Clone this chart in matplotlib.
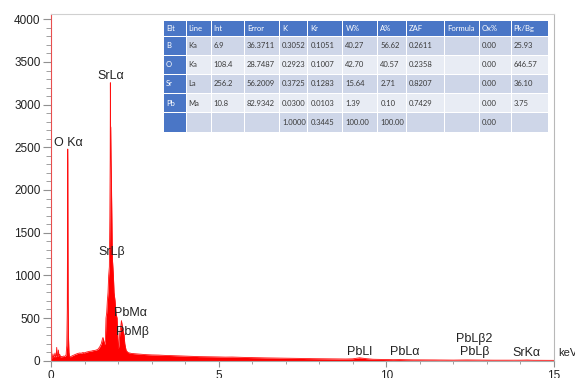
import matplotlib.pyplot as plt
from matplotlib.patches import Rectangle

# spectrum, energy in keV and counts
energy = [0.000, 0.005, 0.012, 0.02, 0.04, 0.06, 0.07, 0.10, 0.12, 0.13,
          0.155, 0.17, 0.18, 0.20, 0.22, 0.235, 0.26, 0.28, 0.31, 0.34,
          0.38, 0.42, 0.45, 0.47, 0.485, 0.49, 0.495, 0.50, 0.505, 0.51,
          0.52, 0.535, 0.55, 0.58, 0.62, 0.66, 0.70, 0.75, 0.80, 0.85,
          0.90, 0.95, 1.00, 1.05, 1.10, 1.15, 1.20, 1.25, 1.30, 1.35,
          1.40, 1.45, 1.50, 1.53, 1.55, 1.57, 1.60, 1.62, 1.64, 1.66,
          1.68, 1.70, 1.72, 1.74, 1.755, 1.765, 1.77, 1.775, 1.78, 1.79,
          1.80, 1.815, 1.83, 1.86, 1.88, 1.91, 1.94, 1.97, 1.99, 2.01,
          2.03, 2.05, 2.08, 2.10, 2.12, 2.15, 2.18, 2.20, 2.24, 2.30,
          2.4, 2.6, 2.8, 3.0, 3.2, 3.4, 3.6, 3.8, 4.0, 4.2,
          4.4, 4.6, 4.8, 5.0, 5.2, 5.4, 5.6, 5.8, 6.0, 6.2,
          6.4, 6.6, 6.8, 7.0, 7.2, 7.4, 7.6, 7.8, 8.0, 8.2,
          8.4, 8.6, 8.8, 9.0, 9.2, 9.4, 9.6, 9.8, 10.0, 10.2,
          10.4, 10.6, 10.8, 11.0, 11.2, 11.4, 11.6, 11.8, 12.0, 12.2,
          12.4, 12.6, 12.8, 13.0, 13.2, 13.4, 13.6, 13.8, 14.0, 14.2,
          14.4, 14.6, 14.8, 15.0]
counts = [2690, 2690, 300, 40, 30, 80, 40, 60, 90, 40,
          60, 156, 60, 50, 125, 60, 75, 40, 50, 45,
          55, 50, 70, 180, 600, 1379, 2316, 2480, 1379, 700,
          300, 100, 50, 45, 55, 62, 70, 78, 85, 90,
          88, 95, 92, 100, 105, 110, 112, 118, 120, 125,
          135, 160, 200, 250, 272, 240, 190, 220, 500, 560,
          700, 800, 1000, 1100, 1687, 2375, 3257, 2742, 2742, 2375,
          2141, 1687, 1200, 1000, 800, 700, 550, 500, 300, 140,
          200, 320, 400, 470, 420, 350, 300, 200, 120, 95,
          85, 78, 72, 68, 66, 62, 60, 57, 54, 52,
          48, 47, 46, 44, 42, 43, 40, 38, 36, 35,
          33, 32, 30, 29, 28, 27, 25, 24, 23, 22,
          21, 20, 20, 22, 34, 24, 17, 15, 13, 12,
          13, 11, 10, 10, 9, 9, 8, 8, 7, 8,
          9, 8, 7, 7, 6, 6, 6, 5, 6, 8,
          5, 5, 4, 4]

# peak labels: text, energy, counts
peak_names = ['O K\u03b1', 'SrL\u03b1', 'SrL\u03b2', 'PbM\u03b1', 'PbM\u03b2',
              'PbLl', 'PbL\u03b1', 'PbL\u03b22', 'PbL\u03b2', 'SrK\u03b1']
peak_x = [0.51, 1.79, 1.82, 2.36, 2.42, 9.2, 10.56, 12.61, 12.64, 14.17]
peak_y = [2551, 3336, 1277, 555, 340, 102, 102, 254, 102, 95]

# quantification table
table_header = ['Elt', 'Line', 'Int', 'Error', 'K', 'Kr', 'W%', 'A%', 'ZAF',
                'Formula', 'Ox%', 'Pk/Bg']
table_rows = [
    ['B', 'Ka', '6.9', '36.3711', '0.3052', '0.1051', '40.27', '56.62', '0.2611', '', '0.00', '25.93'],
    ['O', 'Ka', '108.4', '28.7487', '0.2923', '0.1007', '42.70', '40.57', '0.2358', '', '0.00', '646.57'],
    ['Sr', 'La', '256.2', '56.2009', '0.3725', '0.1283', '15.64', '2.71', '0.8207', '', '0.00', '36.10'],
    ['Pb', 'Ma', '10.8', '82.9342', '0.0300', '0.0103', '1.39', '0.10', '0.7429', '', '0.00', '3.75'],
    ['', '', '', '', '1.0000', '0.3445', '100.00', '100.00', '', '', '0.00', ''],
]

plt.rcParams['font.family'] = ['Liberation Sans', 'DejaVu Sans']

fig = plt.figure(figsize=(5.75, 3.78), dpi=100)
ax = fig.add_axes([51 / 575, 1 - 360.7 / 378, 503 / 575, 346.7 / 378])

ax.fill_between(energy, counts, 0, color='#ff0000', lw=0)
ax.plot(energy, counts, color='#ff1010', lw=0.6)

ax.set_xlim(0, 15)
ax.set_ylim(0, 4062)
ax.set_xticks([0, 5, 10, 15])
ax.set_xticks(range(0, 16), minor=True)
ax.set_yticks(range(0, 4001, 500))
ax.set_yticks(range(0, 4001, 100), minor=True)
ax.tick_params(which='major', length=6, color='#909090', labelsize=8.5,
               labelcolor='#222222', pad=1.5)
ax.tick_params(which='minor', length=3.5, color='#909090')
ax.tick_params(axis='x', which='major', length=4.5, pad=2.5)
ax.tick_params(axis='x', which='minor', length=2.5)

ax.spines['left'].set_color('#e85050')
ax.spines['bottom'].set_color('#a8a8a8')
ax.spines['right'].set_color('#b8b8b8')
ax.spines['top'].set_color('#d0d0d0')

for name, x, y in zip(peak_names, peak_x, peak_y):
    ax.text(x, y, name, ha='center', va='center', fontsize=9, color='#222222')
ax.text(15.12, 95, 'keV', ha='left', va='center', fontsize=8, color='#222222',
        clip_on=False)

# table drawn in pixel units
tab = fig.add_axes([163 / 575, 1 - 132.5 / 378, 386 / 575, 111.5 / 378])
tab.set_xlim(163, 549)
tab.set_ylim(132.5, 21)
tab.axis('off')

col_edges = [163.3, 186, 211, 244.3, 279.3, 307.7, 342.7, 377.7, 406, 444.3,
             479.3, 511, 548.3]
row_edges = [(21, 35.7), (37.2, 54.8), (56.2, 73.8), (75.2, 92.8),
             (94.2, 111.8), (113.2, 131.7)]
blue = '#4a76c6'
band = ['#ced6e8', '#e8ecf4']

for r, (y0, y1) in enumerate(row_edges):
    for c in range(len(table_header)):
        x0, x1 = col_edges[c] + 0.5, col_edges[c + 1] - 0.5
        if r == 0:
            fc, txt, tc = blue, table_header[c], 'white'
        else:
            txt = table_rows[r - 1][c]
            if c == 0:
                fc, tc = blue, 'white'
            else:
                fc, tc = band[(r - 1) % 2], '#3a3a3a'
        tab.add_patch(Rectangle((x0, y0), x1 - x0, y1 - y0, facecolor=fc,
                                edgecolor='none'))
        tab.text(x0 + 2.2, (y0 + y1) / 2, txt, ha='left', va='center',
                 fontsize=5.5, color=tc, family=['Lato', 'DejaVu Sans'])

fig.savefig('out.png', dpi=100)
